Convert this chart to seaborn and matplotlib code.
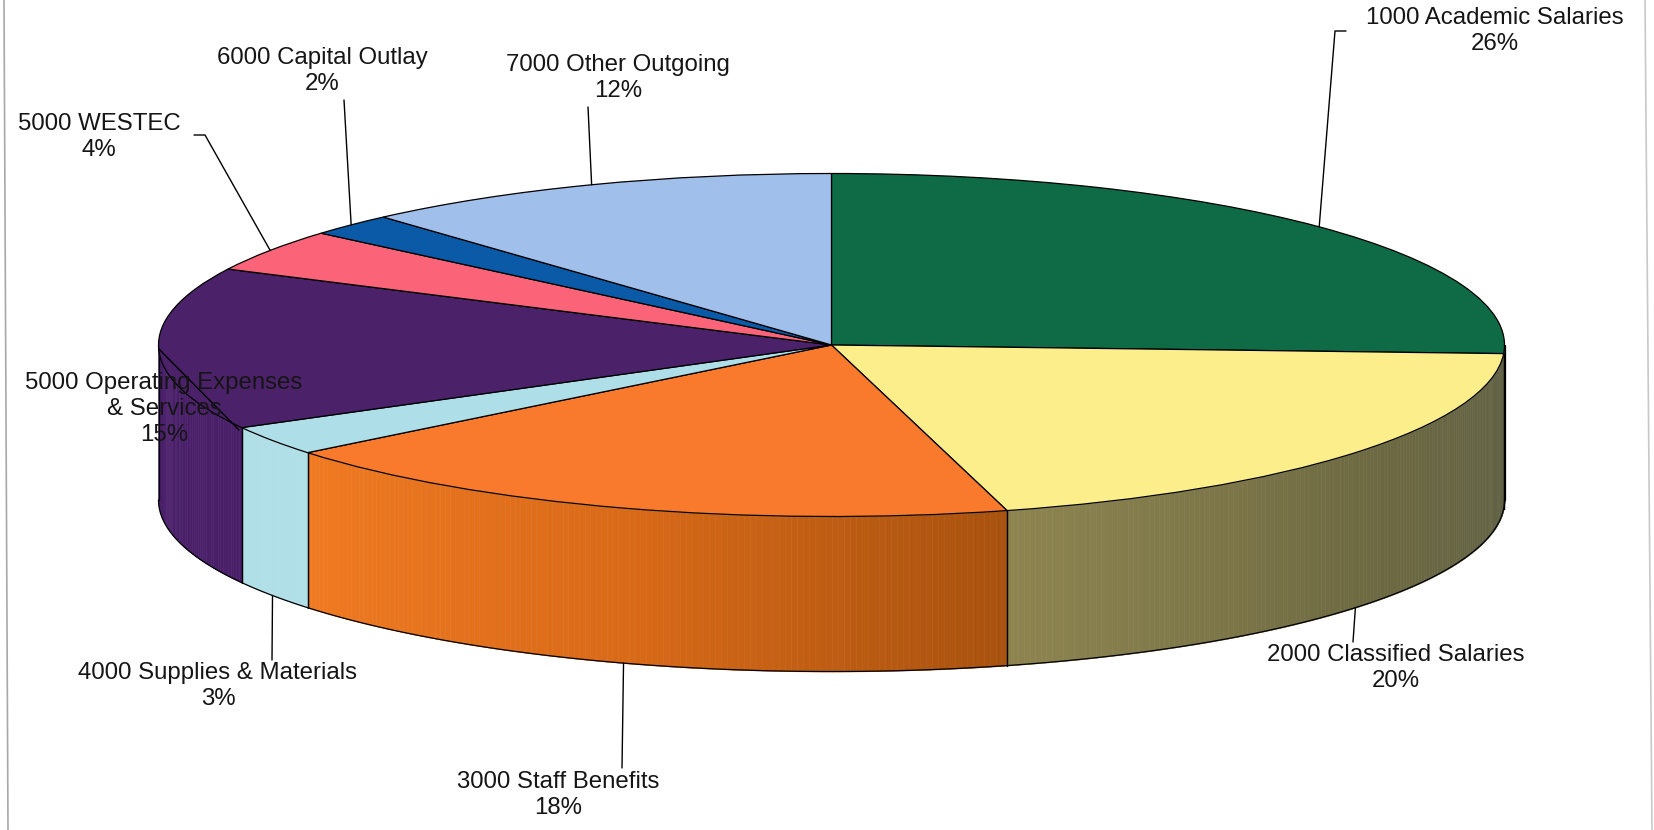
import numpy as np
import matplotlib
matplotlib.use("Agg")
import matplotlib.pyplot as plt
import seaborn as sns

categories = ["1000 Academic Salaries", "2000 Classified Salaries", "3000 Staff Benefits",
              "4000 Supplies & Materials", "5000 Operating Expenses\n& Services", "5000 WESTEC",
              "6000 Capital Outlay", "7000 Other Outgoing"]
shares = [25.8, 20.0, 18.4, 2.8, 15.3, 4.0, 2.1, 11.6]
top_colors = ["#0e6b45", "#fdee8c", "#f97a2c", "#aedfe8", "#4b2169", "#fb6478", "#0a5aa8", "#a0bfeb"]
# wall shading, left to right as seen on the page
wall_colors = [["#0e5b3c", "#0e5b3c"],
               ["#8d8450", "#6e6a42", "#5f6044"],
               ["#f07a22", "#d96a18", "#a8520f"],
               ["#b0dfe8", "#b0dfe8"],
               ["#4a1f6a", "#4a1f6a"],
               ["#c04a5a", "#c04a5a"],
               ["#084a8c", "#084a8c"],
               ["#7f98bc", "#7f98bc"]]

# pie geometry in page pixels
W, H = 1654, 830
CX, CY, RX, RY, DEPTH = 831.5, 345.0, 673.0, 171.5, 155.0

# label centre (x, first line y), elbow points between rim and label
label_pos = [(1495, 21), (1396, 658), (558, 785), (218, 676),
             (164, 386), (99, 127), (322, 61), (618, 68)]
elbows = [[(1335, 31), (1346, 31)], [(1353, 642)], [(622, 768)], [(272, 660)],
          [(239, 430)], [(205, 135), (194, 135)], [(344, 100)], [(588, 107)]]

sns.set_theme(style="white")
plt.rcParams["font.family"] = ["Liberation Sans", "DejaVu Sans"]

fig = plt.figure(figsize=(W / 100, H / 100), dpi=100)
ax = fig.add_axes([0, 0, 1, 1])


def rim(clock_deg, drop=0.0):
    # point on the rim in axis units, clock_deg runs clockwise from 12 o'clock
    a = np.radians(clock_deg)
    return np.sin(a), np.cos(a) - drop / RY


def page(x, y):
    return (x - CX) / RX, (CY - y) / RY


# walls first, only the front half (90..270 clock degrees) can be seen
edges = np.cumsum([0] + shares) / sum(shares) * 360
for i in range(len(shares)):
    start, end = max(edges[i], 90), min(edges[i + 1], 270)
    if end <= start:
        continue
    steps = max(int((end - start) * 2), 2)
    angles = np.linspace(start, end, steps + 1)
    # palette runs left to right, angles run right to left
    shades = sns.blend_palette(wall_colors[i], steps)[::-1]
    for j in range(steps):
        seg = np.linspace(angles[j], angles[j + 1], 4)
        xs, ys = rim(seg)
        ax.fill_between(xs, ys, ys - DEPTH / RY, color=shades[j], lw=0.4, zorder=1)
    # outline of the wall piece
    seg = np.linspace(start, end, 80)
    xs, ys = rim(seg)
    ax.plot(xs, ys - DEPTH / RY, color="black", lw=0.9, zorder=2)
    for a in (start, end):
        x0, y0 = rim(a)
        ax.plot([x0, x0], [y0, y0 - DEPTH / RY], color="black", lw=0.9, zorder=2)

# top face
wedges, _ = ax.pie(shares, colors=sns.color_palette(top_colors), startangle=90, counterclock=False,
                   radius=1, wedgeprops={"edgecolor": "black", "linewidth": 0.9, "zorder": 3})
ax.set_aspect("auto")
ax.set_xlim((0 - CX) / RX, (W - CX) / RX)
ax.set_ylim((CY - H) / RY, CY / RY)

# labels and leader lines
for i, name in enumerate(categories):
    mid = (edges[i] + edges[i + 1]) / 2
    drop = DEPTH if 90 < mid < 265 else 0.0
    pts = [rim(mid, drop)] + [page(*p) for p in elbows[i]]
    ax.plot([p[0] for p in pts], [p[1] for p in pts], color="black", lw=1.0, zorder=4)
    x, y = page(*label_pos[i])
    ax.text(x, y, f"{name}\n{shares[i]:.0f}%", ha="center", va="top", ma="center",
            fontsize=17.3, color="#151515", linespacing=1.23, zorder=5,
            transform=ax.transData)
    ax.texts[-1].set_y(y + 14 / RY)

# scanner edges of the page
ax.plot(*zip(page(4, 0), page(8, H)), color="#a8a8a8", lw=1.2, zorder=0)
ax.plot(*zip(page(1645, 0), page(1652, H)), color="#c8c8c8", lw=1.2, zorder=0)

fig.savefig("out.png", dpi=100, facecolor="white")
